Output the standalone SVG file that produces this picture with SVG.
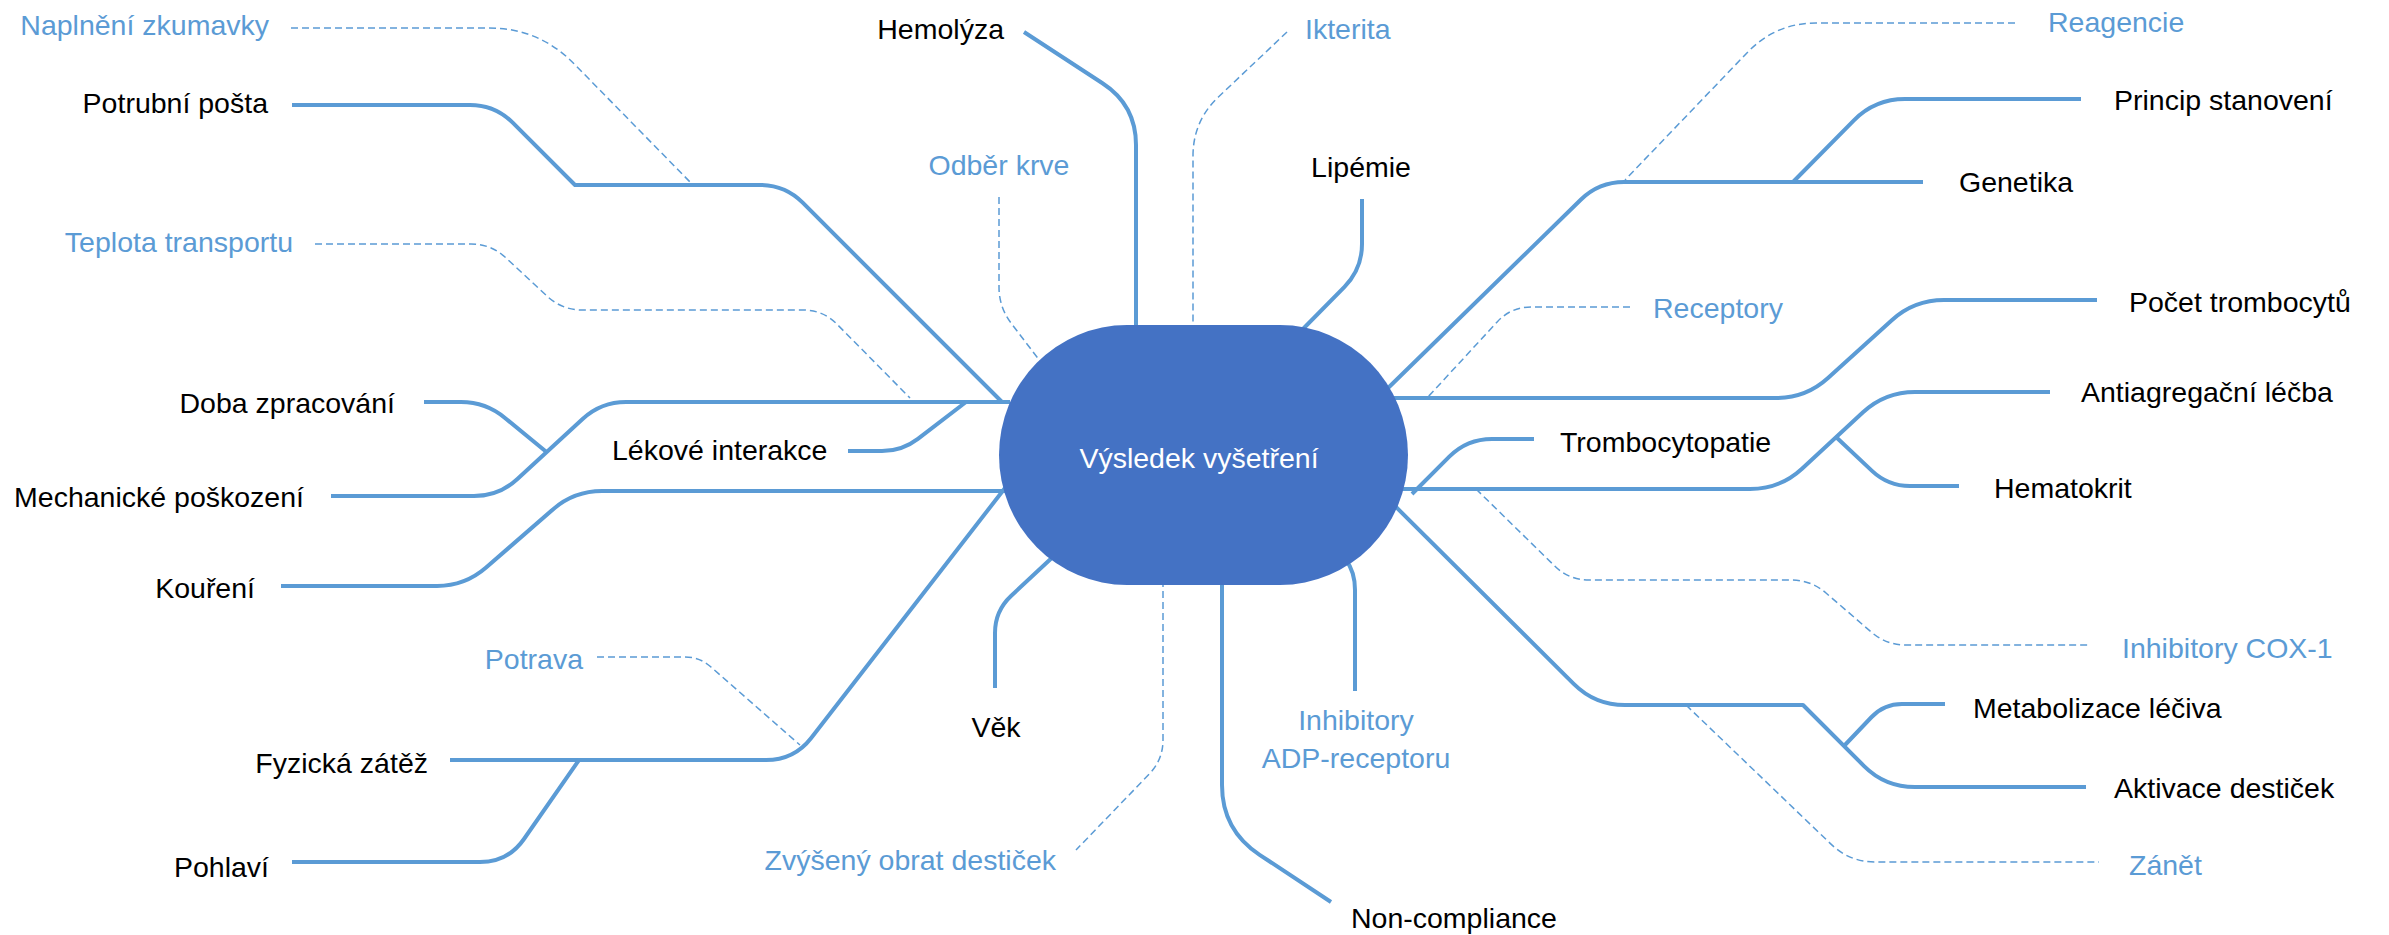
<svg xmlns="http://www.w3.org/2000/svg" width="2389" height="935" viewBox="0 0 2389 935">
<style>
.ln{fill:none;stroke:#5B9BD5;stroke-width:4;stroke-linejoin:round}
.dl{fill:none;stroke:#5B9BD5;stroke-width:1.5;stroke-dasharray:7 4}
text{font-family:"Liberation Sans",Arial,sans-serif;font-size:28.5px;fill:#000}
.b{fill:#5B9BD5}
.e{text-anchor:end}
.m{text-anchor:middle}
</style>
<rect width="2389" height="935" fill="#fff"/>
<g id="connectors">
<path class="ln" d="M292,105 L470,105 Q495,105 512.7,122.7 L575,185 L760,185 Q785,185 802.7,202.7 L1002,402"/>
<path class="ln" d="M331,496 L474,496 Q499,496 517.4,479 L582.6,419 Q601,402 626,402 L1010,402"/>
<path class="ln" d="M424,402 L461,402 Q486,402 505,418 L546.5,452"/>
<path class="ln" d="M848,451 L882,451 Q902,451 917.9,438.8 L966,402"/>
<path class="ln" d="M281,586 L437,586 Q465,586 486.1,567.6 L552.9,509.4 Q574,491 602,491 L1010,491"/>
<path class="ln" d="M450,760 L766,760 Q794,760 811.2,737.9 L1005,488"/>
<path class="ln" d="M292,862 L480,862 Q508,862 524,839 L579,760"/>
<path class="dl" d="M291,28 L489,28 Q539,28 574,63.7 L691,183"/>
<path class="dl" d="M315,244 L471,244 Q491,244 505.6,257.6 L547.4,296.4 Q562,310 582,310 L803,310 Q823,310 837,324.2 L910,398"/>
<path class="dl" d="M597,657 L685,657 Q700,657 711,667 L800,745"/>
<path class="ln" d="M1024,32 L1102.5,83.2 Q1136,105 1136,145 L1136,330"/>
<path class="dl" d="M1287,32 L1218.4,97 Q1193,121 1193,156 L1193,330"/>
<path class="dl" d="M999,197 L999,287 Q999,307 1011,323 L1040,361"/>
<path class="ln" d="M1362,199 L1362,244 Q1362,269 1344.5,286.8 L1300,332"/>
<path class="ln" d="M1385,391 L1581,199.5 Q1599,182 1624,182 L1923,182"/>
<path class="ln" d="M1793,182 L1853.9,120.3 Q1875,99 1905,99 L2081,99"/>
<path class="dl" d="M2015,23 L1816,23 Q1776,23 1748,51.8 L1625,180"/>
<path class="dl" d="M1630,307 L1531,307 Q1511,307 1497.4,321.7 L1427,398"/>
<path class="ln" d="M1380,398 L1776,398 Q1806,398 1828,378 L1891.8,320.2 Q1914,300 1944,300 L2097,300"/>
<path class="ln" d="M1380,489 L1750,489 Q1780,489 1802,468.7 L1863,412.3 Q1885,392 1915,392 L2050,392"/>
<path class="ln" d="M1836,437 L1872,470.9 Q1888,486 1910,486 L1959,486"/>
<path class="ln" d="M1534,439 L1492,439 Q1467,439 1449.3,456.7 L1412,494"/>
<path class="dl" d="M1476,489 L1554.7,566 Q1569,580 1589,580 L1791,580 Q1811,580 1826,593 L1871,631.8 Q1886,645 1906,645 L2089,645"/>
<path class="ln" d="M1392,503 L1573.7,683.8 Q1595,705 1625,705 L1803,705 L1863.8,765.8 Q1885,787 1915,787 L2086,787"/>
<path class="ln" d="M1844,746 L1871.6,717 Q1884,704 1902,704 L1945,704"/>
<path class="dl" d="M1686,705 L1831.8,844.9 Q1850,862 1875,862 L2099,862"/>
<path class="ln" d="M1056,554 L1011,596 Q995,611 995,633 L995,688"/>
<path class="dl" d="M1163,580 L1163,740 Q1163,760 1149,774.3 L1076,850"/>
<path class="ln" d="M1222,580 L1222,785 Q1222,830 1259.6,854.8 L1331,902"/>
<path class="ln" d="M1346,560 Q1355,572 1355,590 L1355,691"/>
</g>
<g id="center">
<rect x="999" y="325" width="409" height="260" rx="128" ry="130" fill="#4472C4"/>
<text x="1199" y="468" class="m" style="fill:#fff">Výsledek vyšetření</text>
</g>
<g id="n-naplneni"><text x="269" y="35" class="e b">Naplnění zkumavky</text></g>
<g id="n-potrubni"><text x="268" y="113" class="e">Potrubní pošta</text></g>
<g id="n-teplota"><text x="293" y="252" class="e b">Teplota transportu</text></g>
<g id="n-doba"><text x="395" y="413" class="e">Doba zpracování</text></g>
<g id="n-lekove"><text x="612" y="460">Lékové interakce</text></g>
<g id="n-mechanicke"><text x="304" y="507" class="e">Mechanické poškození</text></g>
<g id="n-koureni"><text x="255" y="598" class="e">Kouření</text></g>
<g id="n-potrava"><text x="583" y="669" class="e b">Potrava</text></g>
<g id="n-fyzicka"><text x="428" y="773" class="e">Fyzická zátěž</text></g>
<g id="n-pohlavi"><text x="269" y="877" class="e">Pohlaví</text></g>
<g id="n-hemolyza"><text x="1004" y="39" class="e">Hemolýza</text></g>
<g id="n-ikterita"><text x="1305" y="39" class="b">Ikterita</text></g>
<g id="n-odber"><text x="999" y="175" class="m b">Odběr krve</text></g>
<g id="n-lipemie"><text x="1361" y="177" class="m">Lipémie</text></g>
<g id="n-reagencie"><text x="2048" y="32" class="b">Reagencie</text></g>
<g id="n-princip"><text x="2114" y="110">Princip stanovení</text></g>
<g id="n-genetika"><text x="1959" y="192">Genetika</text></g>
<g id="n-receptory"><text x="1653" y="318" class="b">Receptory</text></g>
<g id="n-pocet"><text x="2129" y="312">Počet trombocytů</text></g>
<g id="n-antiagregacni"><text x="2081" y="402">Antiagregační léčba</text></g>
<g id="n-trombocytopatie"><text x="1560" y="452">Trombocytopatie</text></g>
<g id="n-hematokrit"><text x="1994" y="498">Hematokrit</text></g>
<g id="n-cox"><text x="2122" y="658" class="b">Inhibitory COX-1</text></g>
<g id="n-metabolizace"><text x="1973" y="718">Metabolizace léčiva</text></g>
<g id="n-aktivace"><text x="2114" y="798">Aktivace destiček</text></g>
<g id="n-zanet"><text x="2129" y="875" class="b">Zánět</text></g>
<g id="n-vek"><text x="996" y="737" class="m">Věk</text></g>
<g id="n-zvyseny"><text x="1056" y="870" class="e b">Zvýšený obrat destiček</text></g>
<g id="n-adp"><text x="1356" y="730" class="m b">Inhibitory</text><text x="1356" y="768" class="m b">ADP-receptoru</text></g>
<g id="n-noncompliance"><text x="1351" y="928">Non-compliance</text></g>
</svg>
